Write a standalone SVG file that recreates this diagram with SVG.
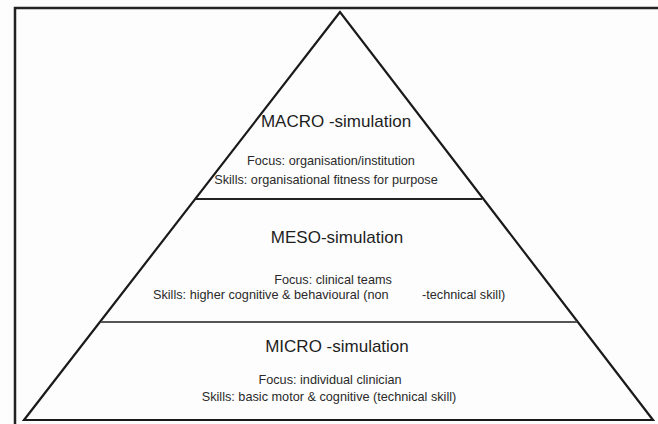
<svg xmlns="http://www.w3.org/2000/svg" width="658" height="424" viewBox="0 0 658 424">
  <style>
    .edge { fill: none; stroke: #1a1a1a; stroke-width: 2.2; stroke-linejoin: miter; }
    .div1 { stroke: #222; stroke-width: 2; }
    .div2 { stroke: #555; stroke-width: 1.8; }
    .frame { stroke: #222; stroke-width: 2.5; fill: none; }
    .title { font-family: "Liberation Sans", Arial, sans-serif; font-size: 17px; fill: #1e1e1e; text-anchor: middle; }
    .body { font-family: "Liberation Sans", Arial, sans-serif; font-size: 12.7px; fill: #2a2a2a; text-anchor: middle; }
    .bodyL { font-family: "Liberation Sans", Arial, sans-serif; font-size: 12.7px; fill: #2a2a2a; }
  </style>
  <rect x="0" y="0" width="658" height="424" fill="#fdfdfd"/>
  <g id="frame">
    <polyline class="frame" points="15,424 15,8 658,8"/>
  </g>
  <g id="pyramid">
    <polygon class="edge" points="340,12 24,420 653,420"/>
    <line class="div1" x1="196" y1="199" x2="482" y2="199"/>
    <line class="div2" x1="101" y1="322" x2="577" y2="322"/>
  </g>
  <g id="macro">
    <text class="title" x="336" y="127">MACRO -simulation</text>
    <text class="body" x="331" y="165">Focus: organisation/institution</text>
    <text class="body" x="326" y="184">Skills: organisational fitness for purpose</text>
  </g>
  <g id="meso">
    <text class="title" x="337" y="243">MESO-simulation</text>
    <text class="body" x="333" y="284">Focus: clinical teams</text>
    <text class="bodyL" x="153" y="299">Skills: higher cognitive &amp; behavioural (non<tspan x="422">-technical skill)</tspan></text>
  </g>
  <g id="micro">
    <text class="title" x="337" y="352">MICRO -simulation</text>
    <text class="body" x="330" y="384">Focus: individual clinician</text>
    <text class="body" x="329" y="401">Skills: basic motor &amp; cognitive (technical skill)</text>
  </g>
  <g id="connectors"></g>
</svg>
